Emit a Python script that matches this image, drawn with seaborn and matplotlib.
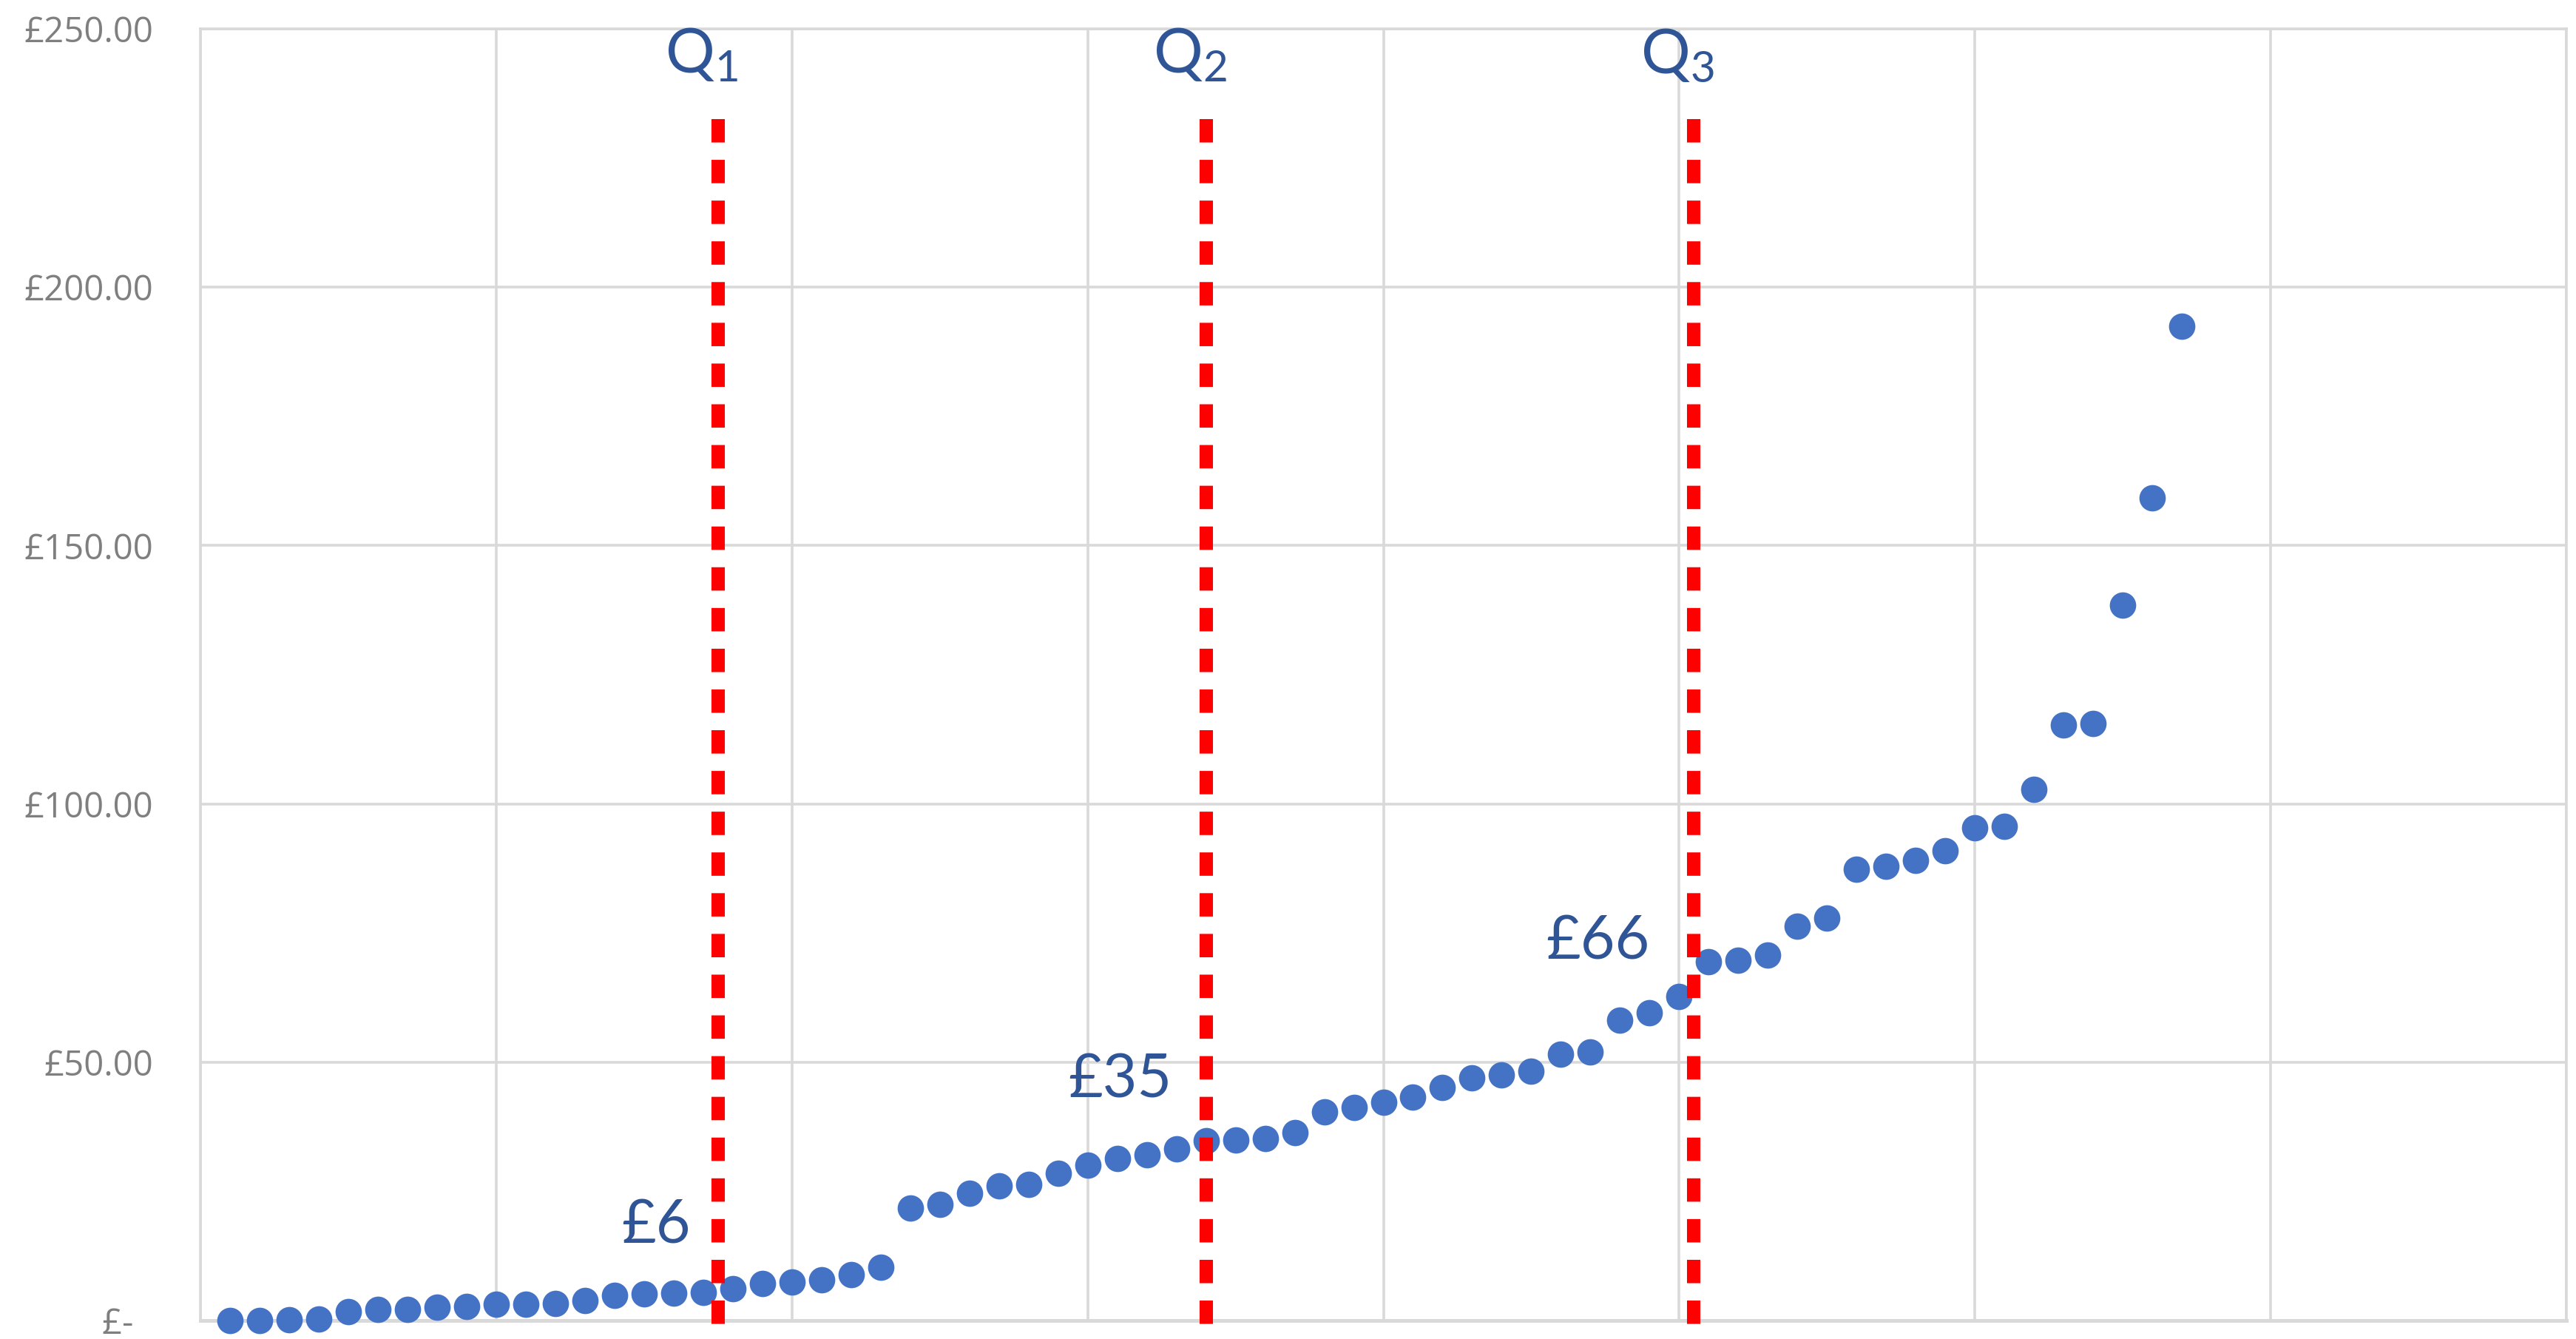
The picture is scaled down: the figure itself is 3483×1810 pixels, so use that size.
import matplotlib
matplotlib.use("Agg")
import matplotlib.pyplot as plt
import seaborn as sns
import pandas as pd

# ---- data ----
prices = [0.0, 0.0, 0.1, 0.3, 1.7, 2.1, 2.2, 2.6, 2.7, 3.2, 3.2, 3.3, 3.8, 4.9, 5.2,
          5.3, 5.4, 6.1, 7.2, 7.4, 7.9, 8.9, 10.3,
          21.7, 22.5, 24.6, 26.1, 26.4, 28.5, 30.1, 31.3, 32.1, 33.2, 34.8, 34.9, 35.2,
          36.4, 40.4, 41.3, 42.3, 43.3, 45.1, 46.9, 47.6, 48.2, 51.6, 52.0, 58.1, 59.5,
          62.7,
          69.4, 69.7, 70.8, 76.3, 77.9, 87.3, 87.9, 89.0, 90.9, 95.4, 95.6, 102.8, 115.2,
          115.5, 138.5, 159.2, 192.4]
ranks = list(range(1, len(prices) + 1))
quartile_pos = [17.5, 34, 50.5]
quartile_names = ["1", "2", "3"]
quartile_values = [6, 35, 66]
y_ticks = [0, 50, 100, 150, 200, 250]
x_ticks = [0, 10, 20, 30, 40, 50, 60, 70, 80]

# ---- layout (positions for annotations) ----
value_label_x = [16.58, 32.84, 49.0]
value_label_y = [14.9, 43.2, 70.0]

df = pd.DataFrame({"rank": ranks, "price": prices})

sns.set_theme(style="white")
plt.rcParams["font.family"] = ["Open Sans", "DejaVu Sans"]
plt.rcParams["mathtext.fontset"] = "custom"
plt.rcParams["mathtext.rm"] = "Lato"

DPI = 200
fig = plt.figure(figsize=(3483 / DPI, 1810 / DPI), dpi=DPI)
ax = fig.add_axes([271 / 3483, 25 / 1810, (3470 - 271) / 3483, (1785 - 39) / 1810])

grid_c = "#d9d9d9"
ax.set_xlim(0, 80)
ax.set_ylim(0, 250)
ax.set_xticks(x_ticks)
ax.set_yticks(y_ticks)
ax.grid(True, color=grid_c, linewidth=1.3)
ax.set_axisbelow(True)
for s in ax.spines.values():
    s.set_visible(True)
    s.set_color(grid_c)
    s.set_linewidth(1.3)
ax.spines["bottom"].set_linewidth(1.8)

ax.set_xticklabels([])
labels = ["£-\u2007" if v == 0 else f"£{v:.2f}" for v in y_ticks]
ax.set_yticklabels(labels)
ax.tick_params(axis="both", length=0)
ax.tick_params(axis="y", pad=23, labelsize=17, labelcolor="#7f7f7f")

sns.scatterplot(data=df, x="rank", y="price", ax=ax, color="#4472C4",
                s=165, linewidth=0, zorder=3)
for c in ax.collections:
    c.set_clip_on(False)

ax.set_xlabel("")
ax.set_ylabel("")

label_c = "#2F5597"
for q, name, val, lx, ly in zip(quartile_pos, quartile_names, quartile_values,
                                 value_label_x, value_label_y):
    ax.plot([q, q], [232.5, -4], color="#FF0000", linewidth=6.5,
            linestyle=(0, (1.75, 1.3)), solid_capstyle="butt",
            dash_capstyle="butt", clip_on=False, zorder=4)
    ax.text(q - 1.8, 241.5, r"$\mathrm{Q_{" + name + "}}$", fontsize=30,
            color=label_c, ha="left", va="baseline", clip_on=False)
    ax.text(lx, ly, f"£{val}", fontsize=29, color=label_c, ha="right",
            va="baseline", family=["Lato", "DejaVu Sans"], zorder=5)

fig.savefig("out.png", dpi=DPI)
